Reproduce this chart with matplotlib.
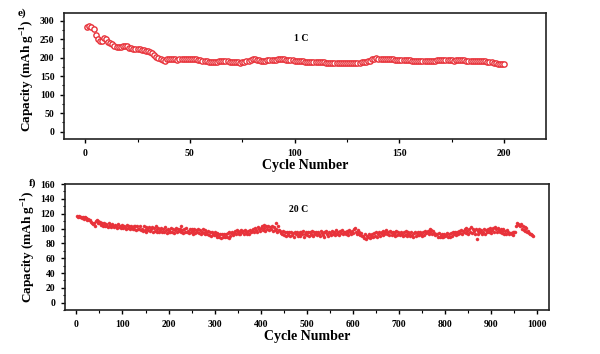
import matplotlib
matplotlib.use('Agg')
import matplotlib.pyplot as plt
import numpy as np
from matplotlib.ticker import MultipleLocator

# 1 C cycling data (cycles 1-200)
cap_1c = [283, 284, 283, 277, 261, 251, 245, 246, 252, 249,
          243, 240, 236, 232, 229, 228, 228, 231, 232, 230,
          227, 225, 223, 222, 222, 222, 221, 221, 219, 217,
          215, 213, 208, 202, 199, 196, 193, 192, 195, 197,
          196, 195, 195, 194, 196, 196, 196, 197, 197, 197,
          196, 195, 195, 194, 193, 192, 191, 190, 189, 188,
          188, 188, 189, 191, 192, 192, 191, 190, 189, 188,
          188, 187, 187, 186, 188, 189, 190, 192, 194, 196,
          196, 194, 193, 192, 192, 192, 193, 193, 193, 194,
          194, 195, 196, 196, 195, 194, 194, 193, 193, 192,
          192, 192, 191, 190, 189, 188, 188, 187, 187, 187,
          187, 188, 188, 187, 186, 186, 186, 186, 185, 185,
          186, 186, 186, 185, 185, 185, 185, 185, 185, 186,
          186, 187, 188, 189, 190, 192, 195, 197, 198, 197,
          197, 196, 196, 197, 197, 196, 195, 194, 194, 193,
          193, 194, 194, 193, 193, 192, 192, 192, 192, 192,
          191, 191, 190, 190, 191, 192, 192, 193, 193, 193,
          193, 193, 193, 193, 193, 192, 193, 193, 193, 193,
          193, 192, 192, 192, 192, 191, 191, 191, 190, 190,
          190, 189, 188, 187, 186, 185, 184, 183, 182, 182]
cycles_1c = np.arange(1, len(cap_1c) + 1)

# 20 C cycling data (every 2nd cycle, 2-990)
cap_20c = [117, 116, 117, 115, 116, 114, 116, 113, 115, 114,
           114, 112, 113, 111, 112, 109, 108, 106, 107, 104,
           110, 111, 108, 110, 107, 109, 105, 108, 104, 107,
           103, 106, 104, 102, 107, 103, 105, 102, 106, 103,
           102, 105, 103, 101, 106, 102, 104, 101, 105, 102,
           101, 104, 102, 100, 105, 101, 103, 99, 104, 101,
           100, 104, 99, 103, 98, 104, 100, 99, 103, 98,
           100, 97, 103, 98, 102, 96, 101, 98, 102, 97,
           99, 102, 96, 101, 97, 103, 95, 99, 101, 96,
           98, 101, 95, 100, 96, 102, 98, 94, 100, 96,
           98, 95, 101, 96, 100, 94, 98, 101, 95, 99,
           97, 100, 95, 104, 98, 94, 100, 96, 101, 95,
           97, 94, 100, 95, 99, 93, 97, 100, 94, 98,
           96, 99, 94, 98, 93, 96, 99, 94, 98, 93,
           95, 92, 97, 91, 95, 90, 96, 93, 91, 95,
           91, 94, 89, 93, 88, 92, 87, 93, 89, 92,
           88, 93, 89, 94, 87, 95, 90, 94, 96, 91,
           94, 97, 92, 98, 95, 93, 97, 92, 98, 95,
           97, 93, 98, 95, 92, 97, 93, 98, 95, 97,
           97, 100, 95, 101, 98, 96, 102, 99, 97, 101,
           103, 98, 105, 101, 97, 104, 100, 103, 98, 102,
           100, 104, 97, 102, 98, 107, 100, 96, 103, 98,
           97, 94, 92, 97, 91, 95, 90, 96, 93, 91,
           95, 90, 96, 91, 94, 89, 95, 92, 96, 90,
           93, 96, 90, 95, 92, 97, 89, 93, 96, 91,
           95, 90, 96, 93, 91, 97, 90, 95, 93, 96,
           91, 96, 93, 90, 97, 94, 91, 96, 89, 95,
           97, 93, 90, 96, 94, 91, 97, 93, 96, 91,
           94, 98, 92, 96, 91, 97, 94, 98, 92, 96,
           96, 92, 97, 94, 91, 98, 95, 92, 97, 94,
           99, 101, 96, 93, 98, 92, 96, 91, 94, 90,
           90, 87, 92, 86, 90, 88, 93, 87, 91, 89,
           93, 89, 94, 90, 95, 89, 92, 96, 90, 94,
           95, 91, 97, 92, 96, 98, 92, 96, 91, 97,
           95, 91, 96, 93, 90, 95, 97, 91, 95, 92,
           91, 96, 93, 90, 95, 91, 97, 93, 90, 95,
           93, 90, 95, 91, 89, 94, 96, 90, 94, 91,
           95, 91, 96, 93, 90, 95, 91, 97, 94, 96,
           97, 93, 99, 95, 98, 92, 97, 94, 91, 93,
           92, 89, 94, 88, 91, 89, 93, 88, 92, 90,
           91, 94, 89, 93, 88, 94, 90, 95, 92, 94,
           95, 91, 96, 93, 97, 94, 98, 92, 97, 95,
           99, 94, 101, 97, 93, 100, 96, 102, 94, 99,
           97, 93, 100, 86, 97, 92, 99, 95, 98, 93,
           96, 100, 93, 98, 95, 99, 96, 101, 97, 94,
           98, 101, 96, 102, 99, 95, 101, 98, 96, 100,
           97, 94, 99, 93, 97, 92, 98, 95, 93, 94,
           94, 92, 96, 91, 95, 96, 104, 107, 106, 105,
           104, 106, 100, 103, 98, 102, 97, 101, 96, 97,
           94, 93, 92, 91, 90]
cycles_20c = np.arange(2, 2 * len(cap_20c) + 1, 2)

red = '#e8323a'
plt.rcParams['font.family'] = ['Liberation Serif', 'DejaVu Serif']
plt.rcParams['font.weight'] = 'bold'
plt.rcParams['mathtext.fontset'] = 'custom'
plt.rcParams['mathtext.rm'] = 'Liberation Serif:bold'
plt.rcParams['mathtext.bf'] = 'Liberation Serif:bold'

fig = plt.figure(figsize=(6, 3.54), dpi=100)
ax1 = fig.add_axes([0.107, 0.607, 0.803, 0.356])
ax2 = fig.add_axes([0.108, 0.124, 0.807, 0.356])

ax1.plot(cycles_1c, cap_1c, 'o', ms=3.8, mfc='white', mec=red, mew=1.0)
ax2.plot(cycles_20c, cap_20c, 'o', ms=2.2, mfc=red, mec=red, mew=0.3)

ax1.set_xlim(-10, 220)
ax1.set_ylim(-20, 320)
ax1.xaxis.set_major_locator(MultipleLocator(50))
ax1.xaxis.set_minor_locator(MultipleLocator(25))
ax1.yaxis.set_major_locator(MultipleLocator(50))
ax1.yaxis.set_minor_locator(MultipleLocator(25))

ax2.set_xlim(-25, 1025)
ax2.set_ylim(-10, 160)
ax2.xaxis.set_major_locator(MultipleLocator(100))
ax2.xaxis.set_minor_locator(MultipleLocator(50))
ax2.yaxis.set_major_locator(MultipleLocator(20))
ax2.yaxis.set_minor_locator(MultipleLocator(10))

for ax in (ax1, ax2):
    for s in ax.spines.values():
        s.set_linewidth(1.2)
        s.set_color('#222222')
    ax.tick_params(which='major', direction='out', length=3, width=1,
                   labelsize=7, pad=4, top=False, right=False)
    ax.tick_params(which='minor', direction='out', length=1.8, width=0.8,
                   top=False, right=False)
    for lab in ax.get_xticklabels() + ax.get_yticklabels():
        lab.set_fontweight('bold')
    ax.set_xlabel('Cycle Number', fontsize=10, fontweight='bold', labelpad=1)
    ax.set_ylabel(r'Capacity (mAh g$^{\mathbf{-1}}$)', fontsize=9.5,
                  fontweight='bold', labelpad=2)

ax1.text(103, 252, '1 C', fontsize=7, fontweight='bold', ha='center', va='center')
ax2.text(482, 126, '20 C', fontsize=7, fontweight='bold', ha='center', va='center')

fig.text(0.03, 0.963, 'e)', fontsize=8, fontweight='bold', va='center')
fig.text(0.048, 0.483, 'f)', fontsize=8, fontweight='bold', va='center')

fig.savefig('out.png', dpi=100)
